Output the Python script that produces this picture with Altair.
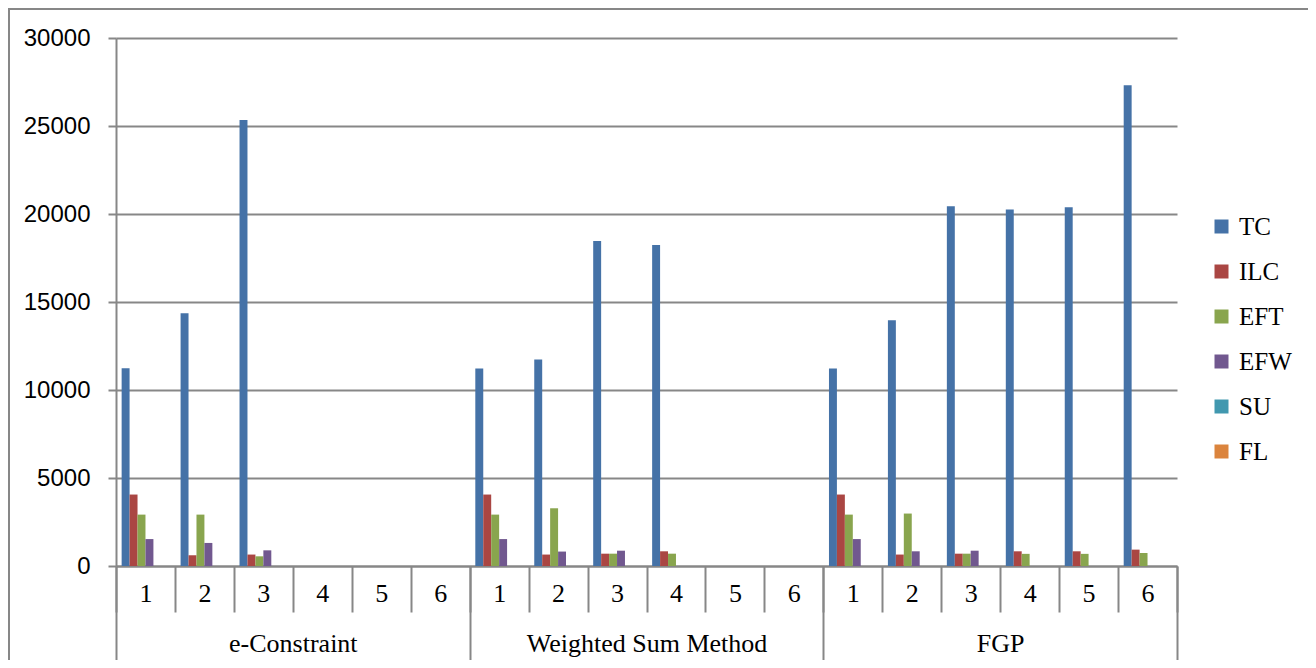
import altair as alt
import pandas as pd

groups = ["e-Constraint", "Weighted Sum Method", "FGP"]
runs = ["1", "2", "3", "4", "5", "6"]
series = ["TC", "ILC", "EFT", "EFW", "SU", "FL"]
colors = ["#4572A7", "#AA4643", "#89A54E", "#71588F", "#4198AF", "#DB843D"]

# values per category, in order: e-Constraint 1..6, Weighted Sum Method 1..6, FGP 1..6
tc = [11230, 14360, 25340, 0, 0, 0,
      11220, 11740, 18470, 18240, 0, 0,
      11220, 13960, 20440, 20250, 20380, 27310]
ilc = [4060, 610, 650, 0, 0, 0,
       4060, 650, 700, 835, 0, 0,
       4060, 650, 700, 835, 835, 930]
eft = [2920, 2920, 550, 0, 0, 0,
       2920, 3280, 700, 700, 0, 0,
       2920, 2980, 700, 690, 690, 740]
efw = [1530, 1310, 890, 0, 0, 0,
       1530, 820, 870, 0, 0, 0,
       1530, 835, 870, 0, 0, 0]
su = [0, 0, 0, 0, 0, 0, 0, 0, 0, 0, 0, 0, 0, 0, 0, 0, 0, 0]
fl = [0, 0, 0, 0, 0, 0, 0, 0, 0, 0, 0, 0, 0, 0, 0, 0, 0, 0]

y_ticks = [0, 5000, 10000, 15000, 20000, 25000, 30000]

cats = [g + "|" + r for g in groups for r in runs]
vals = {"TC": tc, "ILC": ilc, "EFT": eft, "EFW": efw, "SU": su, "FL": fl}
rows = []
for s in series:
    for i, c in enumerate(cats):
        rows.append({"cat": c, "series": s, "value": vals[s][i]})
df = pd.DataFrame(rows)
gdf = pd.DataFrame({"group": groups})
one = pd.DataFrame({"a": [0]})

W, H = 1061, 528
grey = "#878787"

bars = alt.Chart(df).mark_bar().encode(
    x=alt.X("cat:N", sort=cats,
            scale=alt.Scale(paddingInner=0, paddingOuter=0),
            axis=alt.Axis(orient="bottom", title=None,
                          labelExpr="split(datum.label, '|')[1]",
                          tickBand="extent", tickSize=46, tickWidth=2, tickColor=grey,
                          domainColor=grey, domainWidth=2, labelAngle=0,
                          labelFont="Liberation Serif", labelFontSize=26, labelColor="black",
                          labelBaseline="middle", labelPadding=-19, grid=False)),
    xOffset=alt.XOffset("series:N", sort=series,
                        scale=alt.Scale(domain=series, paddingInner=0, paddingOuter=0.71)),
    y=alt.Y("value:Q", scale=alt.Scale(domain=[0, 30000]),
            axis=alt.Axis(values=y_ticks, title=None, format="d",
                          labelFont="Liberation Sans", labelFontSize=24, labelColor="black",
                          tickSize=8, tickWidth=2, tickColor=grey, labelPadding=18,
                          domainColor=grey, domainWidth=2,
                          grid=True, gridColor=grey, gridWidth=2)),
    color=alt.Color("series:N", sort=series,
                    scale=alt.Scale(domain=series, range=colors),
                    legend=alt.Legend(title=None, orient="none", legendX=1093, legendY=176,
                                      symbolType="square", symbolSize=196, symbolStrokeWidth=0,
                                      labelFont="Liberation Serif", labelFontSize=25,
                                      labelColor="black", rowPadding=19, labelOffset=5,
                                      padding=0)),
)

grp = alt.Chart(gdf).mark_bar(opacity=0).encode(
    x=alt.X("group:N", sort=groups,
            scale=alt.Scale(type="band", paddingInner=0, paddingOuter=0),
            axis=alt.Axis(orient="bottom", title=None, tickBand="extent", tickSize=94,
                          tickWidth=2, tickColor=grey, domain=False, labelAngle=0,
                          labelFont="Liberation Serif", labelFontSize=26, labelColor="black",
                          labelBaseline="middle", labelPadding=-17, labelLimit=0, grid=False)),
)

border = alt.Chart(one).mark_rect(fillOpacity=0, stroke=grey, strokeWidth=2).encode(
    x=alt.value(-107), x2=alt.value(W + 300), y=alt.value(-29), y2=alt.value(H + 300)
)

chart = alt.layer(border, bars, grp).resolve_scale(x="independent").properties(
    width=W, height=H,
    autosize=alt.AutoSizeParams(type="none"),
    padding={"left": 108, "top": 30, "right": 131, "bottom": 94},
).configure_view(strokeWidth=0)

chart.save("out.html", embed_options={"renderer": "svg", "actions": False})
